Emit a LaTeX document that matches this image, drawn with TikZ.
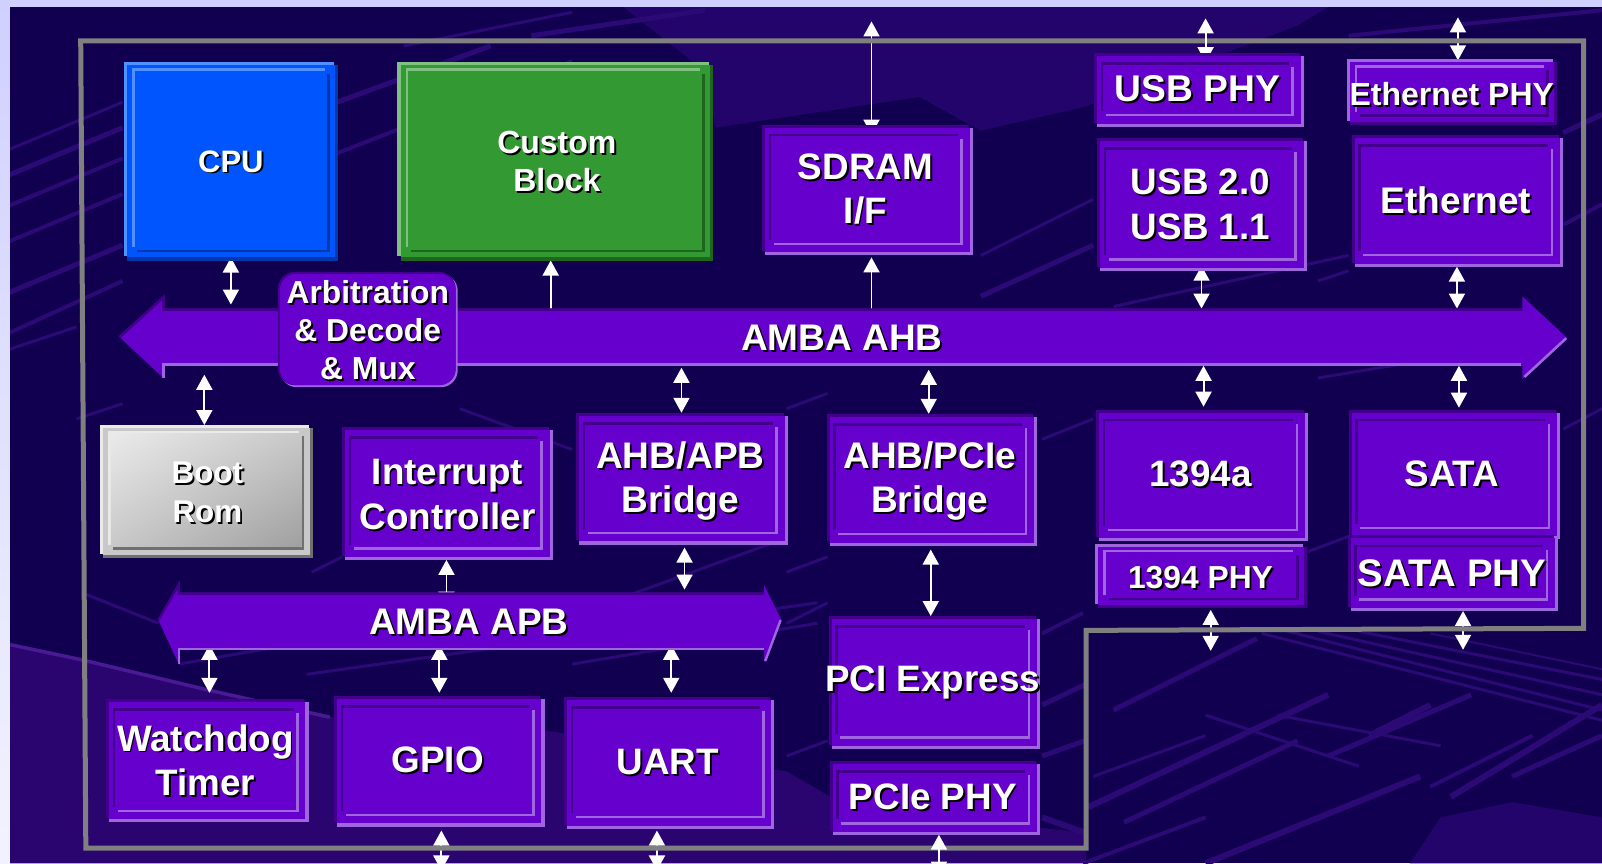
\documentclass[tikz,border=0pt]{standalone}
\usepackage{fontspec}
\setmainfont{Liberation Sans}
\usetikzlibrary{arrows.meta,fit,shadings}
\definecolor{pagetop}{HTML}{D0D0FF}
\definecolor{pageleft}{HTML}{F2F2FF}
\definecolor{bgdark}{HTML}{10004F}
\definecolor{zone}{HTML}{2A0570}
\definecolor{zonet}{HTML}{22046A}
\definecolor{streak}{HTML}{2C0A75}
\definecolor{streakb}{HTML}{4A1A95}
\definecolor{frameg}{HTML}{808080}
\definecolor{purp}{HTML}{6600CC}
\definecolor{purpl}{HTML}{A066E0}
\definecolor{purpd}{HTML}{42008C}
\definecolor{cpuf}{HTML}{0055FF}
\definecolor{cpul}{HTML}{5090FF}
\definecolor{cpud}{HTML}{0038A8}
\definecolor{grnf}{HTML}{339933}
\definecolor{grnl}{HTML}{80C080}
\definecolor{grnd}{HTML}{1E661E}
\definecolor{romf}{HTML}{C8C8C8}
\definecolor{roml}{HTML}{EAEAEA}
\definecolor{romd}{HTML}{707070}
\pgfdeclarelayer{bglayer}
\pgfdeclarelayer{connlow}
\pgfdeclarelayer{framelayer}
\pgfdeclarelayer{connlayer}
\pgfsetlayers{bglayer,connlow,framelayer,connlayer,main}
\tikzset{
  anchorbox/.style={inner sep=0pt,outer sep=0pt,draw=none},
  dbl/.style={draw=white,line width=1.9pt,{Triangle[width=16pt,length=15pt]}-{Triangle[width=16pt,length=15pt]}},
  sgl/.style={draw=white,line width=1.9pt,{Triangle[width=16pt,length=15pt]}-},
  frameline/.style={draw=frameg,line width=5pt,line join=miter,line cap=square},
  lbltext/.style={text=white,inner sep=0pt,align=center},
  lblshadow/.style={text=black,inner sep=0pt,align=center},
}
\newcommand{\offs}[4]{\def\ixa{#1}\def\iya{#2}\def\ixb{#3}\def\iyb{#4}}
% name, x0,y0,x1,y1, top-left colour, bottom-right colour, fill
\newcommand{\bevbox}[8]{%
  \fill[#6] (#2,#3) rectangle (#4-4,#5-4);
  \fill[#7] (#2+3,#3+3) rectangle (#4,#5);
  \fill[#8] (#2+3,#3+3) rectangle (#4-3,#5-3);
  \fill[#6] (#2+\ixa,#3+\iya) rectangle (#4-\ixb-5,#3+\iya+2.5);
  \fill[#6] (#2+\ixa,#3+\iya) rectangle (#2+\ixa+2.5,#5-\iyb-5);
  \fill[#7] (#4-\ixb-2.5,#3+\iya+5) rectangle (#4-\ixb,#5-\iyb);
  \fill[#7] (#2+\ixa+5,#5-\iyb-2.5) rectangle (#4-\ixb,#5-\iyb);
  \node[anchorbox,fit={(#2,#3)(#4,#5)}] (#1) {};
}
\newcommand{\sunk}[5]{\offs{6.5}{9}{9.5}{10}\bevbox{#1}{#2}{#3}{#4}{#5}{purpd}{purpl}{purp}}
\newcommand{\raisedb}[5]{\offs{8}{6}{8}{7.5}\bevbox{#1}{#2}{#3}{#4}{#5}{purpl}{purpd}{purp}}
% name, x, y, size, leading, text
\newcommand{\lbl}[6]{%
  \node[lblshadow,font={\fontsize{#4}{#5}\selectfont\bfseries}] at (#2+1.8,#3+1.8) {#6};
  \node[lbltext,font={\fontsize{#4}{#5}\selectfont\bfseries}] (#1) at (#2,#3) {#6};
}
\begin{document}
\begin{tikzpicture}[x=1.0217pt,y=-1.0217pt]
\useasboundingbox (0,0) rectangle (1568,844.7);
\begin{pgfonlayer}{bglayer}
  \fill[pagetop] (0,0) rectangle (1568,7);
  \shade[top color=pagetop,bottom color=pageleft] (0,0) rectangle (10,844.7);
  \begin{scope}
  \clip (10,7) rectangle (1568,844.7);
  \fill[bgdark] (10,7) rectangle (1568,844.7);
  % lighter zones of the backdrop
  \fill[zone] (10,631) -- (81,646) -- (202,675) -- (323,702) -- (535,715) -- (770,755) -- (830,790) -- (1063,815) -- (1063,845) -- (10,845) -- cycle;
  \fill[zonet] (610,7) -- (1300,7) -- (1270,25) -- (1060,105) -- (960,128) -- (900,95) -- (700,125) -- (690,70) -- cycle;
  \fill[zonet] (1380,845) -- (1410,800) -- (1480,785) -- (1568,800) -- (1568,845) -- cycle;
  \foreach \xa/\ya/\xb/\yb/\w in {
    0/175/120/125/5, 0/150/120/100/3, 0/205/120/155/4, 0/240/120/190/4, 0/290/120/240/5, 0/330/120/275/4,
    0/345/75/320/3, 120/395/75/410/3, 330/100/480/45/5, 330/150/560/60/4, 395/45/560/12/3, 520/35/690/10/5,
    960/290/1070/240/5, 960/250/1070/195/3,
    1290/275/1320/265/3, 1090/300/1320/250/3, 1320/35/1568/10/4, 1530/130/1568/112/5, 1530/220/1568/200/4,
    1290/370/1530/330/3, 1530/420/1568/400/3, 450/400/560/440/3, 305/560/335/545/3, 540/610/760/530/3,
    770/400/810/385/3, 1020/430/1070/410/3, 1020/620/1060/600/4, 1280/540/1320/525/3,
    770/560/810/545/3, 770/610/810/590/3, 560/650/800/610/3,
    80/580/155/610/3, 175/650/520/590/3, 300/660/800/590/3,
    1090/695/1230/625/5, 1065/790/1300/680/6, 1100/805/1270/725/5, 1180/700/1330/750/3,
    1235/620/1568/705/3, 1260/618/1568/695/3, 1290/618/1568/680/3, 1330/618/1568/665/3, 1400/620/1568/655/2,
    1250/700/1410/730/3, 1300/740/1440/680/5, 1340/720/1400/690/6, 1400/770/1500/720/4,
    1060/845/1180/800/4, 1180/845/1390/760/6, 1420/780/1568/690/6, 1480/760/1568/720/5,
    770/740/810/725/3, 1070/760/1180/720/3, 1020/690/1062/670/5, 1020/740/1062/725/5, 1020/800/1062/815/6
  } { \draw[streak,line width=\w pt] (\xa,\ya) -- (\xb,\yb); }
  \draw[streakb,line width=3.5pt] (10,631) -- (81,646) -- (202,675) -- (323,702);
  \end{scope}
\end{pgfonlayer}
\begin{pgfonlayer}{framelayer}
  \draw[frameline] (79,40) -- (1550,40) -- (1550,615) -- (1063,617) -- (1063,830) -- (84,830) -- cycle;
\end{pgfonlayer}

% AMBA AHB bus
\fill[purp] (117,330) -- (160,291) -- (160,302) -- (1490,302) -- (1490,290) -- (1534,331) -- (1490,371) -- (1490,358) -- (160,358) -- (160,370) -- cycle;
\draw[purpd,line width=2.6pt] (117,330) -- (160,291) -- (160,303) -- (1490,303);
\draw[purpl,line width=2.6pt] (160,370) -- (160,357) -- (1489,357);
\draw[purpl,line width=2.6pt] (1492,369) -- (1533,331);
\node[anchorbox,fit={(160,302)(1490,358)}] (ahb) {};
\lbl{ahbt}{824}{331}{37}{44}{AMBA AHB}

% Arbitration block
\fill[purpl,rounded corners=17pt] (274,268) rectangle (448,379);
\fill[purpd,rounded corners=17pt] (272,266) rectangle (446,377);
\fill[purp,rounded corners=16pt] (274,268) rectangle (446,377);
\node[anchorbox,fit={(272,266)(448,379)}] (arb) {};
\lbl{arbt}{360}{323}{31.8}{37.8}{Arbitration\\\& Decode\\\& Mux}

% AMBA APB bus
\fill[purp] (155,607) -- (175,572) -- (175,580) -- (748,580) -- (748,573) -- (765,607) -- (748,648) -- (748,636) -- (175,636) -- (175,650) -- cycle;
\draw[purpd,line width=2.4pt] (155,607) -- (175,572) -- (175,581) -- (748,581);
\draw[purpl,line width=2.4pt] (175,650) -- (175,635) -- (748,635);
\draw[purpl,line width=2.4pt] (749,647) -- (764,607);
\node[anchorbox,fit={(175,580)(748,636)}] (apb) {};
\lbl{apbt}{459}{609}{37}{44}{AMBA APB}

% Blocks
\offs{8}{6}{8}{8}
\bevbox{cpu}{121.5}{61}{331}{255}{cpul}{cpud}{cpuf}
\lbl{cput}{226}{158}{31}{38}{CPU}
\bevbox{cust}{389}{61}{698}{255}{grnl}{grnd}{grnf}
\lbl{custt}{545}{158}{32}{38.5}{Custom\\Block}
\sunk{sdram}{746}{122}{952}{250}
\lbl{sdramt}{847}{185}{36.8}{44}{SDRAM\\I/F}
\sunk{usbphy}{1071}{52}{1276}{124}
\lbl{usbphyt}{1172}{87}{37.2}{44}{USB PHY}
\sunk{usb}{1074}{135}{1279}{265}
\lbl{usbt}{1175}{200}{36.8}{44.5}{USB 2.0\\USB 1.1}
\raisedb{ethphy}{1318}{58}{1524}{122}
\lbl{ethphyt}{1421}{92}{32}{40}{Ethernet PHY}
\sunk{eth}{1323}{132}{1530}{261}
\lbl{etht}{1425}{196}{37}{44}{Ethernet}
\offs{8}{6}{8}{8}
\bevbox{rom}{98}{416}{306}{546}{roml}{romd}{romf}
\shade[upper left=roml,lower right=romf!80!black,upper right=romf,lower left=romf] (108.5,424.5) rectangle (295,535);
\lbl{romt}{203}{482}{31.4}{38.5}{Boot\\Rom}
\sunk{irq}{335}{418}{541}{548}
\lbl{irqt}{438}{484}{36.8}{44.5}{Interrupt\\Controller}
\sunk{apbbr}{564}{404}{771}{533}
\lbl{apbbrt}{666}{471}{37}{44.5}{AHB/APB\\Bridge}
\sunk{pcibr}{809}{405}{1015}{534}
\lbl{pcibrt}{910}{471}{37}{44.5}{AHB/PCIe\\Bridge}
\sunk{fw}{1073}{401}{1280}{530}
\lbl{fwt}{1175}{464}{36.8}{44}{1394a}
\sunk{sata}{1320}{401}{1527}{528}
\lbl{satat}{1421}{464}{36.8}{44}{SATA}
\raisedb{fwphy}{1072}{532}{1279}{595}
\lbl{fwphyt}{1175}{565}{31.8}{38}{1394 PHY}
\sunk{sataphy}{1319}{524}{1525}{598}
\lbl{sataphyt}{1421}{561}{38.4}{44}{SATA PHY}
\sunk{pcie}{811}{603}{1018}{733}
\lbl{pciet}{913}{668}{36.8}{44}{PCI Express}
\sunk{pciephy}{812}{745}{1018}{817}
\lbl{pciephyt}{913}{780}{36.8}{44}{PCIe PHY}
\sunk{wdt}{104}{684}{302}{805}
\lbl{wdtt}{201}{744}{36.8}{44.5}{Watchdog\\Timer}
\sunk{gpio}{327}{681}{533}{809}
\lbl{gpiot}{428.5}{744}{36.8}{44}{GPIO}
\sunk{uart}{552}{682}{758}{811}
\lbl{uartt}{653.5}{746}{36.8}{44}{UART}

% Connectors
\coordinate (cCpu) at (226,0);
\coordinate (cCust) at (539,0);
\coordinate (cSd) at (853,0);
\coordinate (cUsbTop) at (1180,0);
\coordinate (cEthTop) at (1427,0);
\coordinate (cUsb) at (1176,0);
\coordinate (cEth) at (1426,0);
\coordinate (cRom) at (200,0);
\coordinate (cApbBr) at (667,0);
\coordinate (cPciBr) at (909,0);
\coordinate (cFw) at (1178,0);
\coordinate (cSata) at (1428,0);
\coordinate (cIrq) at (437,0);
\coordinate (cApbLow) at (670,0);
\coordinate (cPcie) at (911,0);
\coordinate (cWdt) at (205,0);
\coordinate (cGpio) at (430,0);
\coordinate (cUart) at (657,0);
\coordinate (cFwPhy) at (1185,0);
\coordinate (cSataPhy) at (1432,0);
\coordinate (sdOut) at (853,21);
\coordinate (usbOut) at (1180,18);
\coordinate (ethOut) at (1427,17);
\coordinate (gpioOut) at (432,811);
\coordinate (gpioEnd) at (432,852);
\coordinate (uartOut) at (643,811);
\coordinate (uartEnd) at (643,852);
\coordinate (phyOut) at (919,817);
\coordinate (phyEnd) at (919,858);
\coordinate (fwEnd) at (1185,637);
\coordinate (sataEnd) at (1432,636);
\begin{pgfonlayer}{connlow}
  \draw[dbl,shorten >=-10pt] (sdOut) -- (cSd |- sdram.north);
  \draw[dbl,shorten >=-1pt] (ethOut) -- (cEthTop |- ethphy.north);
  \draw[dbl,shorten <=2pt] (cFwPhy |- fwphy.south) -- (fwEnd);
  \draw[dbl] (cSataPhy |- sataphy.south) -- (sataEnd);
  \draw[dbl,shorten <=2pt] (gpioOut) -- (gpioEnd);
  \draw[dbl,shorten <=2pt] (uartOut) -- (uartEnd);
\end{pgfonlayer}
\begin{pgfonlayer}{connlayer}
  \draw[dbl,shorten <=-3pt,shorten >=4pt] (cCpu |- cpu.south) -- (cCpu |- ahb.north);
  \draw[sgl,shorten >=-1pt] (cCust |- cust.south) -- (cCust |- ahb.north);
  \draw[sgl,shorten <=2pt] (cSd |- sdram.south) -- (cSd |- ahb.north);
  \draw[dbl,shorten >=-9pt] (usbOut) -- (cUsbTop |- usbphy.north);
  \draw[dbl,shorten <=-5pt] (cUsb |- usb.south) -- (cUsb |- ahb.north);
  \draw[dbl] (cEth |- eth.south) -- (cEth |- ahb.north);
  \draw[dbl,shorten <=9pt] (cRom |- ahb.south) -- (cRom |- rom.north);
  \draw[dbl,shorten <=2pt] (cApbBr |- ahb.south) -- (cApbBr |- apbbr.north);
  \draw[dbl,shorten <=4pt] (cPciBr |- ahb.south) -- (cPciBr |- pcibr.north);
  \draw[dbl,shorten >=3pt] (cFw |- ahb.south) -- (cFw |- fw.north);
  \draw[dbl,shorten >=2pt] (cSata |- ahb.south) -- (cSata |- sata.north);
  \draw[dbl,shorten >=-14pt] (cIrq |- irq.south) -- (cIrq |- apb.north);
  \draw[dbl,shorten <=3pt,shorten >=3pt] (cApbLow |- apbbr.south) -- (cApbLow |- apb.north);
  \draw[dbl,shorten <=4pt] (cPcie |- pcibr.south) -- (cPcie |- pcie.north);
  \draw[dbl,shorten <=-5pt,shorten >=6pt] (cWdt |- apb.south) -- (cWdt |- wdt.north);
  \draw[dbl,shorten <=-5pt,shorten >=3pt] (cGpio |- apb.south) -- (cGpio |- gpio.north);
  \draw[dbl,shorten <=-5pt,shorten >=4pt] (cUart |- apb.south) -- (cUart |- uart.north);
  \draw[dbl] (phyOut) -- (phyEnd);
\end{pgfonlayer}
\end{tikzpicture}
\end{document}
